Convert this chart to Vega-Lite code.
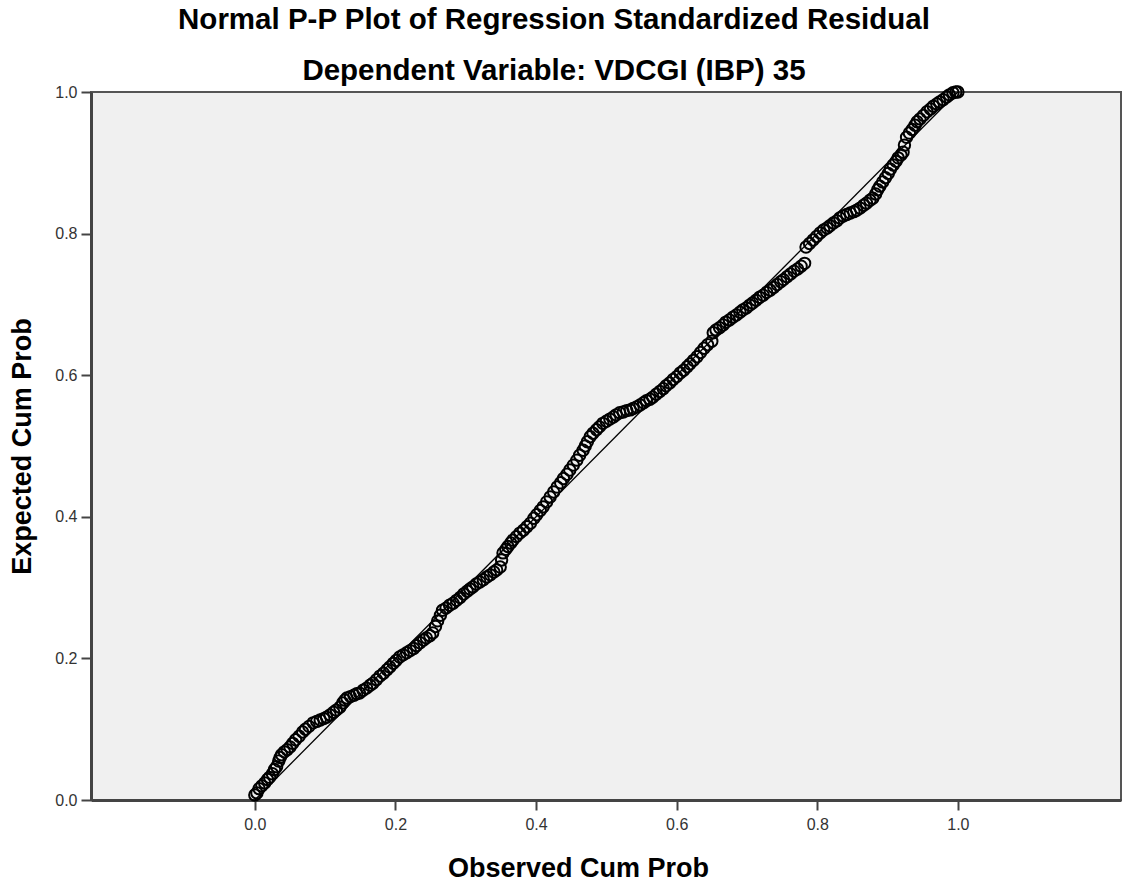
{
"$schema": "https://vega.github.io/schema/vega-lite/v6.json",
"width": 1030, "height": 708,
"autosize": "none",
"padding": {"left": 91, "top": 92, "right": 1, "bottom": 84},
"background": "white",
"title": {"text": "Normal P-P Plot of Regression Standardized Residual", "subtitle": "Dependent Variable: VDCGI (IBP) 35", "font": "Liberation Sans", "fontSize": 29.5, "fontWeight": "bold", "color": "black", "subtitleFont": "Liberation Sans", "subtitleFontSize": 29.5, "subtitleFontWeight": "bold", "subtitleColor": "black", "anchor": "middle", "frame": "group", "dx": -52, "offset": -4, "subtitlePadding": 21},
"config": {
  "view": {"fill": "#F0F0F0", "stroke": "#555555", "strokeWidth": 2},
  "axis": {"grid": false, "domainColor": "#444444", "domainWidth": 3, "tickColor": "#444444", "tickWidth": 2, "tickSize": 10, "labelFont": "Liberation Sans", "labelFontSize": 16, "labelColor": "#333333", "titleFont": "Liberation Sans", "titleFontSize": 27, "titleFontWeight": "bold", "titleColor": "black"}
},
"layer": [
  {"data": {"values": [{"obs": 0, "exp": 0}, {"obs": 1, "exp": 1}]},
   "mark": {"type": "line", "color": "#000000", "strokeWidth": 1.3},
   "encoding": {"x": {"field": "obs", "type": "quantitative"}, "y": {"field": "exp", "type": "quantitative"}}},
  {"data": {"values": [
{"obs":0.000,"exp":0.007},{"obs":0.003,"exp":0.010},{"obs":0.006,"exp":0.016},{"obs":0.010,"exp":0.020},{"obs":0.014,"exp":0.024},{"obs":0.018,"exp":0.029},{"obs":0.021,"exp":0.032},
{"obs":0.025,"exp":0.037},{"obs":0.028,"exp":0.043},{"obs":0.031,"exp":0.047},{"obs":0.034,"exp":0.055},{"obs":0.036,"exp":0.060},{"obs":0.038,"exp":0.064},
{"obs":0.042,"exp":0.068},{"obs":0.046,"exp":0.071},{"obs":0.050,"exp":0.075},{"obs":0.054,"exp":0.080},{"obs":0.058,"exp":0.085},{"obs":0.063,"exp":0.090},{"obs":0.068,"exp":0.096},
{"obs":0.072,"exp":0.100},{"obs":0.077,"exp":0.104},{"obs":0.083,"exp":0.109},{"obs":0.088,"exp":0.111},{"obs":0.093,"exp":0.113},{"obs":0.098,"exp":0.115},{"obs":0.102,"exp":0.117},
{"obs":0.107,"exp":0.120},{"obs":0.112,"exp":0.124},{"obs":0.116,"exp":0.127},{"obs":0.121,"exp":0.131},{"obs":0.125,"exp":0.137},{"obs":0.128,"exp":0.141},{"obs":0.131,"exp":0.144},
{"obs":0.136,"exp":0.146},{"obs":0.141,"exp":0.148},{"obs":0.145,"exp":0.150},{"obs":0.149,"exp":0.151},{"obs":0.154,"exp":0.155},{"obs":0.159,"exp":0.158},{"obs":0.164,"exp":0.162},{"obs":0.168,"exp":0.165},
{"obs":0.173,"exp":0.170},{"obs":0.178,"exp":0.175},{"obs":0.183,"exp":0.179},{"obs":0.188,"exp":0.184},{"obs":0.192,"exp":0.188},{"obs":0.197,"exp":0.193},{"obs":0.201,"exp":0.197},{"obs":0.206,"exp":0.202},
{"obs":0.211,"exp":0.205},{"obs":0.216,"exp":0.208},{"obs":0.221,"exp":0.211},{"obs":0.226,"exp":0.214},{"obs":0.230,"exp":0.218},{"obs":0.235,"exp":0.222},
{"obs":0.240,"exp":0.226},{"obs":0.244,"exp":0.229},{"obs":0.249,"exp":0.232},{"obs":0.253,"exp":0.236},{"obs":0.257,"exp":0.245},{"obs":0.260,"exp":0.253},{"obs":0.264,"exp":0.261},{"obs":0.267,"exp":0.268},
{"obs":0.272,"exp":0.271},{"obs":0.277,"exp":0.275},{"obs":0.282,"exp":0.278},{"obs":0.287,"exp":0.282},{"obs":0.292,"exp":0.286},{"obs":0.297,"exp":0.291},{"obs":0.302,"exp":0.295},{"obs":0.306,"exp":0.298},{"obs":0.310,"exp":0.301},
{"obs":0.315,"exp":0.305},{"obs":0.320,"exp":0.308},{"obs":0.325,"exp":0.311},{"obs":0.330,"exp":0.315},{"obs":0.335,"exp":0.318},{"obs":0.340,"exp":0.322},{"obs":0.344,"exp":0.325},{"obs":0.349,"exp":0.329},
{"obs":0.351,"exp":0.339},{"obs":0.353,"exp":0.349},{"obs":0.357,"exp":0.354},{"obs":0.360,"exp":0.358},{"obs":0.364,"exp":0.363},{"obs":0.367,"exp":0.367},
{"obs":0.372,"exp":0.372},{"obs":0.377,"exp":0.377},{"obs":0.382,"exp":0.381},{"obs":0.387,"exp":0.386},{"obs":0.392,"exp":0.391},{"obs":0.397,"exp":0.398},{"obs":0.401,"exp":0.403},{"obs":0.406,"exp":0.409},{"obs":0.410,"exp":0.414},
{"obs":0.415,"exp":0.421},{"obs":0.420,"exp":0.428},{"obs":0.425,"exp":0.435},{"obs":0.430,"exp":0.442},{"obs":0.435,"exp":0.448},{"obs":0.439,"exp":0.454},{"obs":0.444,"exp":0.460},{"obs":0.448,"exp":0.466},
{"obs":0.453,"exp":0.473},{"obs":0.458,"exp":0.480},{"obs":0.462,"exp":0.487},{"obs":0.467,"exp":0.494},{"obs":0.470,"exp":0.500},{"obs":0.473,"exp":0.506},{"obs":0.477,"exp":0.513},
{"obs":0.481,"exp":0.518},{"obs":0.486,"exp":0.523},{"obs":0.490,"exp":0.527},{"obs":0.495,"exp":0.532},{"obs":0.500,"exp":0.535},{"obs":0.505,"exp":0.538},{"obs":0.510,"exp":0.541},{"obs":0.514,"exp":0.544},{"obs":0.519,"exp":0.547},
{"obs":0.524,"exp":0.548},{"obs":0.529,"exp":0.550},{"obs":0.534,"exp":0.551},{"obs":0.538,"exp":0.553},{"obs":0.543,"exp":0.555},{"obs":0.548,"exp":0.558},{"obs":0.553,"exp":0.561},{"obs":0.557,"exp":0.564},{"obs":0.562,"exp":0.566},{"obs":0.566,"exp":0.569},
{"obs":0.571,"exp":0.573},{"obs":0.576,"exp":0.577},{"obs":0.581,"exp":0.581},{"obs":0.585,"exp":0.585},{"obs":0.590,"exp":0.589},{"obs":0.595,"exp":0.594},{"obs":0.600,"exp":0.598},{"obs":0.605,"exp":0.603},{"obs":0.610,"exp":0.607},{"obs":0.615,"exp":0.612},
{"obs":0.619,"exp":0.616},{"obs":0.624,"exp":0.621},{"obs":0.629,"exp":0.626},{"obs":0.634,"exp":0.632},{"obs":0.639,"exp":0.638},{"obs":0.644,"exp":0.643},{"obs":0.650,"exp":0.648},{"obs":0.652,"exp":0.660},{"obs":0.656,"exp":0.664},
{"obs":0.661,"exp":0.667},{"obs":0.666,"exp":0.671},{"obs":0.670,"exp":0.675},{"obs":0.675,"exp":0.678},{"obs":0.680,"exp":0.682},{"obs":0.685,"exp":0.685},{"obs":0.690,"exp":0.689},{"obs":0.694,"exp":0.692},{"obs":0.699,"exp":0.695},{"obs":0.704,"exp":0.699},{"obs":0.708,"exp":0.702},
{"obs":0.713,"exp":0.706},{"obs":0.718,"exp":0.710},{"obs":0.723,"exp":0.713},{"obs":0.728,"exp":0.717},{"obs":0.733,"exp":0.720},{"obs":0.738,"exp":0.724},{"obs":0.743,"exp":0.728},{"obs":0.748,"exp":0.732},{"obs":0.752,"exp":0.735},{"obs":0.757,"exp":0.739},
{"obs":0.762,"exp":0.743},{"obs":0.767,"exp":0.747},{"obs":0.772,"exp":0.750},{"obs":0.777,"exp":0.754},{"obs":0.782,"exp":0.758},{"obs":0.784,"exp":0.781},{"obs":0.789,"exp":0.786},{"obs":0.794,"exp":0.791},{"obs":0.799,"exp":0.796},{"obs":0.804,"exp":0.801},
{"obs":0.809,"exp":0.805},{"obs":0.814,"exp":0.808},{"obs":0.818,"exp":0.811},{"obs":0.823,"exp":0.815},{"obs":0.828,"exp":0.818},{"obs":0.832,"exp":0.822},{"obs":0.837,"exp":0.825},{"obs":0.842,"exp":0.827},{"obs":0.847,"exp":0.829},{"obs":0.852,"exp":0.831},{"obs":0.856,"exp":0.833},{"obs":0.861,"exp":0.836},
{"obs":0.866,"exp":0.840},{"obs":0.870,"exp":0.843},{"obs":0.875,"exp":0.847},{"obs":0.879,"exp":0.850},{"obs":0.883,"exp":0.856},{"obs":0.886,"exp":0.862},{"obs":0.889,"exp":0.867},{"obs":0.893,"exp":0.873},
{"obs":0.897,"exp":0.879},{"obs":0.901,"exp":0.885},{"obs":0.904,"exp":0.891},{"obs":0.908,"exp":0.897},{"obs":0.912,"exp":0.902},{"obs":0.915,"exp":0.907},{"obs":0.919,"exp":0.911},{"obs":0.922,"exp":0.915},{"obs":0.924,"exp":0.925},{"obs":0.927,"exp":0.936},
{"obs":0.931,"exp":0.942},{"obs":0.935,"exp":0.947},{"obs":0.939,"exp":0.953},{"obs":0.942,"exp":0.958},{"obs":0.946,"exp":0.962},{"obs":0.951,"exp":0.967},{"obs":0.956,"exp":0.972},
{"obs":0.961,"exp":0.976},{"obs":0.965,"exp":0.980},{"obs":0.970,"exp":0.983},{"obs":0.974,"exp":0.986},{"obs":0.979,"exp":0.989},{"obs":0.984,"exp":0.993},{"obs":0.988,"exp":0.996},{"obs":0.993,"exp":0.999},{"obs":0.997,"exp":1.000},{"obs":1.000,"exp":1.000}
  ]},
   "mark": {"type": "point", "shape": "circle", "filled": false, "size": 130, "stroke": "#000000", "strokeWidth": 2, "opacity": 1},
   "encoding": {
     "x": {"field": "obs", "type": "quantitative", "scale": {"domain": [-0.233, 1.232], "nice": false, "zero": false},
           "axis": {"values": [0, 0.2, 0.4, 0.6, 0.8, 1.0], "format": ".1f", "title": "Observed Cum Prob", "labelPadding": 6, "titleX": 487, "titlePadding": 23}},
     "y": {"field": "exp", "type": "quantitative", "scale": {"domain": [0, 1], "nice": false, "zero": false},
           "axis": {"values": [0, 0.2, 0.4, 0.6, 0.8, 1.0], "format": ".1f", "title": "Expected Cum Prob", "labelPadding": 4, "titlePadding": 18}}
   }}
]
}
